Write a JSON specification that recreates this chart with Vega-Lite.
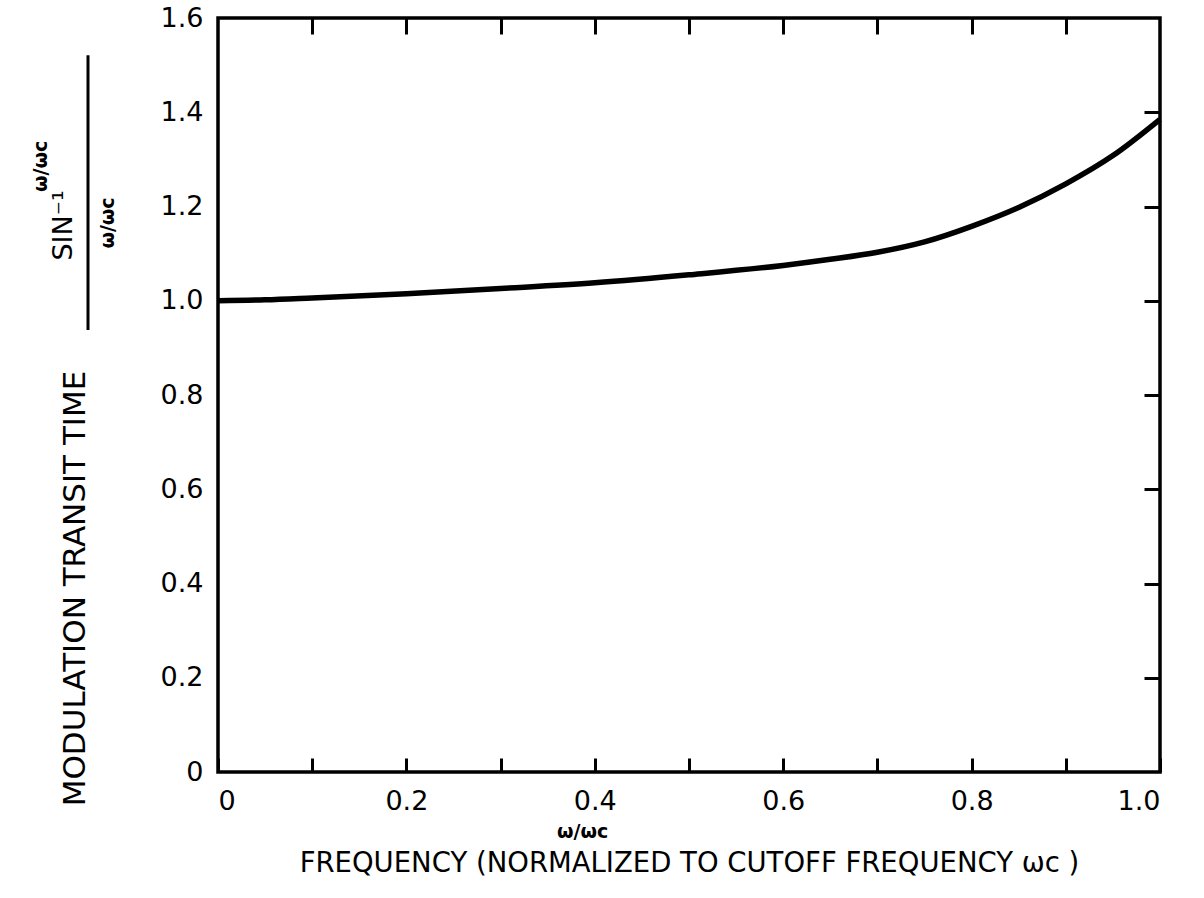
{
  "$schema": "https://vega.github.io/schema/vega-lite/v6.json",
  "width": 942,
  "height": 754,
  "padding": {"left": 218, "top": 18, "right": 44, "bottom": 126},
  "autosize": {"type": "none"},
  "background": "white",
  "config": {
    "view": {"stroke": "black", "strokeWidth": 3.5},
    "font": "DejaVu Sans",
    "axis": {"labelFont": "DejaVu Sans", "titleFont": "DejaVu Sans", "labelColor": "black", "titleColor": "black", "tickColor": "black", "domain": false, "grid": false, "titleFontWeight": "normal"}
  },
  "datasets": {
    "curve": [
      {"f": 0.0, "t": 1.0},
      {"f": 0.05, "t": 1.002},
      {"f": 0.1, "t": 1.006},
      {"f": 0.2, "t": 1.015},
      {"f": 0.3, "t": 1.026},
      {"f": 0.4, "t": 1.038},
      {"f": 0.5, "t": 1.055},
      {"f": 0.6, "t": 1.075},
      {"f": 0.65, "t": 1.088},
      {"f": 0.7, "t": 1.103},
      {"f": 0.75, "t": 1.125},
      {"f": 0.8, "t": 1.158},
      {"f": 0.85, "t": 1.198},
      {"f": 0.9, "t": 1.248},
      {"f": 0.95, "t": 1.308},
      {"f": 1.0, "t": 1.385}
    ],
    "sin": [
      {"f": -0.164, "t": 1.16, "label": "SIN⁻¹"}
    ],
    "fracs": [
      {"f": -0.188, "t": 1.285, "label": "ω/ωc"},
      {"f": -0.117, "t": 1.165, "label": "ω/ωc"}
    ],
    "flatnotes": [
      {"f": 0.387, "t": -0.128, "label": "ω/ωc"}
    ],
    "bar": [
      {"f": -0.138, "t": 0.938, "t2": 1.521}
    ]
  },
  "resolve": {"axis": {"x": "independent", "y": "independent"}},
  "layer": [
    {
      "data": {"name": "curve"},
      "mark": {"type": "line", "color": "black", "strokeWidth": 5.5, "interpolate": "monotone"},
      "encoding": {
        "x": {"field": "f", "type": "quantitative", "scale": {"domain": [0, 1], "nice": false, "zero": false},
          "axis": {"orient": "bottom", "values": [0, 0.1, 0.2, 0.3, 0.4, 0.5, 0.6, 0.7, 0.8, 0.9, 1.0],
            "labelExpr": "datum.value == 0 ? '0' : (round(datum.value*10) % 2 == 0 ? format(datum.value, '.1f') : '')",
            "tickSize": -14, "tickWidth": 3, "labelPadding": 30, "labelFontSize": 27,
            "title": "FREQUENCY (NORMALIZED TO CUTOFF FREQUENCY ωc )", "titleFontSize": 27.5, "titleY": 91, "titleBaseline": "middle"}},
        "y": {"field": "t", "type": "quantitative", "scale": {"domain": [0, 1.6], "nice": false, "zero": false},
          "axis": {"orient": "left", "values": [0, 0.2, 0.4, 0.6, 0.8, 1.0, 1.2, 1.4, 1.6],
            "labelExpr": "datum.value == 0 ? '0' : format(datum.value, '.1f')",
            "ticks": false, "labelPadding": 15, "labelFontSize": 27,
            "title": "MODULATION TRANSIT TIME", "titleFontSize": 31, "titleX": -143, "titleY": 570, "titleBaseline": "middle"}}
      }
    },
    {
      "data": {"name": "sin"},
      "mark": {"type": "text", "color": "black", "angle": 270, "align": "center", "baseline": "middle", "fontSize": 27},
      "encoding": {
        "x": {"field": "f", "type": "quantitative",
          "axis": {"orient": "top", "values": [0.1, 0.2, 0.3, 0.4, 0.5, 0.6, 0.7, 0.8, 0.9], "labels": false, "tickSize": -16, "tickWidth": 3, "title": null}},
        "y": {"field": "t", "type": "quantitative",
          "axis": {"orient": "right", "values": [0.2, 0.4, 0.6, 0.8, 1.0, 1.2, 1.4], "labels": false, "tickSize": -16, "tickWidth": 3, "title": null}},
        "text": {"field": "label"}
      }
    },
    {
      "data": {"name": "fracs"},
      "mark": {"type": "text", "color": "black", "angle": 270, "align": "center", "baseline": "middle", "fontSize": 19, "fontWeight": "bold"},
      "encoding": {
        "x": {"field": "f", "type": "quantitative", "axis": null},
        "y": {"field": "t", "type": "quantitative", "axis": null},
        "text": {"field": "label"}
      }
    },
    {
      "data": {"name": "flatnotes"},
      "mark": {"type": "text", "color": "black", "fontSize": 19, "align": "center", "baseline": "middle", "fontWeight": "bold"},
      "encoding": {
        "x": {"field": "f", "type": "quantitative", "axis": null},
        "y": {"field": "t", "type": "quantitative", "axis": null},
        "text": {"field": "label"}
      }
    },
    {
      "data": {"name": "bar"},
      "mark": {"type": "rule", "color": "black", "strokeWidth": 3},
      "encoding": {
        "x": {"field": "f", "type": "quantitative", "axis": null},
        "y": {"field": "t", "type": "quantitative", "axis": null},
        "y2": {"field": "t2"}
      }
    }
  ]
}
